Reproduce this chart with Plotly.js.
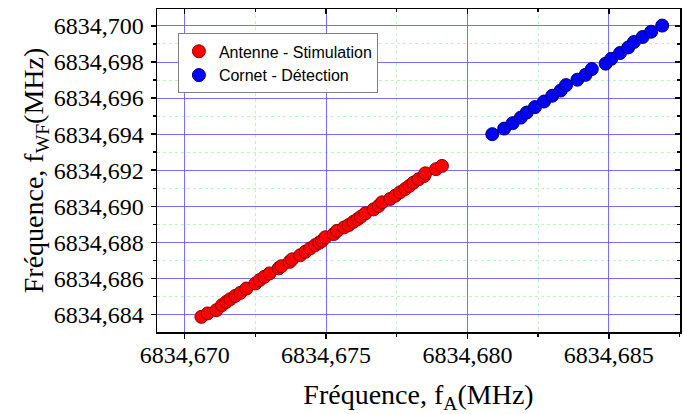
<!DOCTYPE html>
<html>
<head>
<meta charset="utf-8">
<script src="https://cdn.plot.ly/plotly-3.0.1.min.js"></script>
<style>html,body{margin:0;padding:0;background:#fff;}#chart{width:684px;height:414px;}</style>
</head>
<body>
<div id="chart"></div>
<script>
// Antenne - Stimulation (red)
const antenneX = [6834.67059, 6834.67081, 6834.67112, 6834.67132, 6834.67147, 6834.67161, 6834.67179, 6834.67197,
  6834.67218, 6834.67250, 6834.67265, 6834.67282, 6834.67300, 6834.67332, 6834.67342, 6834.67371, 6834.67380,
  6834.67409, 6834.67427, 6834.67444, 6834.67462, 6834.67476, 6834.67486, 6834.67497, 6834.67527, 6834.67539,
  6834.67564, 6834.67580, 6834.67597, 6834.67611, 6834.67623, 6834.67639, 6834.67668, 6834.67686, 6834.67698,
  6834.67727, 6834.67745, 6834.67762, 6834.67780, 6834.67795, 6834.67809, 6834.67827, 6834.67847, 6834.67851,
  6834.67889, 6834.67910];
const antenneY = [6834.68387, 6834.68406, 6834.68424, 6834.68452, 6834.68470, 6834.68485, 6834.68503, 6834.68520,
  6834.68544, 6834.68572, 6834.68591, 6834.68609, 6834.68628, 6834.68656, 6834.68668, 6834.68692, 6834.68706,
  6834.68729, 6834.68748, 6834.68767, 6834.68785, 6834.68798, 6834.68809, 6834.68828, 6834.68846, 6834.68864,
  6834.68883, 6834.68896, 6834.68914, 6834.68928, 6834.68942, 6834.68961, 6834.68983, 6834.69002, 6834.69022,
  6834.69041, 6834.69059, 6834.69078, 6834.69096, 6834.69113, 6834.69131, 6834.69150, 6834.69168, 6834.69183,
  6834.69206, 6834.69224];
// Cornet - Détection (blue)
const cornetX = [6834.68088, 6834.68130, 6834.68160, 6834.68189, 6834.68210, 6834.68239, 6834.68271, 6834.68300,
  6834.68330, 6834.68349, 6834.68389, 6834.68418, 6834.68440, 6834.68489, 6834.68509, 6834.68540, 6834.68569,
  6834.68589, 6834.68620, 6834.68650, 6834.68689];
const cornetY = [6834.69400, 6834.69431, 6834.69461, 6834.69492, 6834.69520, 6834.69550, 6834.69581, 6834.69613,
  6834.69642, 6834.69672, 6834.69702, 6834.69729, 6834.69761, 6834.69791, 6834.69818, 6834.69850, 6834.69881,
  6834.69911, 6834.69939, 6834.69968, 6834.70002];
const seriesNames = ['Antenne - Stimulation', 'Cornet - Détection'];
const xTitle = 'Fréquence, f<sub>A</sub>(MHz)';
const yTitle = 'Fréquence, f<sub>WF</sub>(MHz)';

const serif = 'Liberation Serif, Times New Roman, serif';
const xr = [6834.66902, 6834.68752];
const yr = [6834.68303, 6834.70094];

const traces = [
  {x: antenneX, y: antenneY, name: seriesNames[0], type: 'scatter', mode: 'markers',
   marker: {size: 13, color: '#ff0000', line: {color: '#8b0000', width: 1}}},
  {x: cornetX, y: cornetY, name: seriesNames[1], type: 'scatter', mode: 'markers',
   xaxis: 'x2', yaxis: 'y2',
   marker: {size: 13, color: '#0000ff', line: {color: '#00006e', width: 1}}}
];

const gridMajor = 'rgba(90,90,255,0.85)';
const gridMinor = 'rgba(170,240,170,0.75)';

const layout = {
  width: 684, height: 414,
  margin: {l: 157, r: 4, t: 9, b: 82},
  paper_bgcolor: '#ffffff', plot_bgcolor: '#ffffff',
  separators: ', ',
  showlegend: true,
  legend: {x: 0.04, y: 0.9245, xanchor: 'left', yanchor: 'top',
    bgcolor: '#ffffff', bordercolor: '#808080', borderwidth: 1,
    font: {family: 'Liberation Sans, Arial, sans-serif', size: 16, color: '#000'},
    tracegroupgap: 0, itemsizing: 'trace'},
  xaxis: {range: xr, tick0: 6834.670, dtick: 0.005, tickformat: '.3f',
    showline: true, linecolor: '#000', linewidth: 1.5, mirror: true,
    ticks: 'outside', ticklen: 5, tickwidth: 1.5, tickcolor: '#000',
    ticklabelstandoff: -4,
    showgrid: true, gridcolor: gridMajor, gridwidth: 1, zeroline: false,
    minor: {dtick: 0.0025, tick0: 6834.670, ticks: 'outside', ticklen: 3, tickcolor: '#000', showgrid: true, gridcolor: gridMinor, griddash: 'dot', gridwidth: 1},
    tickfont: {family: serif, size: 24, color: '#000'},
    title: {text: xTitle, font: {family: serif, size: 28, color: '#000'}, standoff: 17},
    automargin: false},
  yaxis: {range: yr, tick0: 6834.684, dtick: 0.002, tickformat: '.3f',
    showline: true, linecolor: '#000', linewidth: 1.5, mirror: true,
    ticks: 'outside', ticklen: 5, tickwidth: 1.5, tickcolor: '#000',
    ticklabelstandoff: 2,
    showgrid: true, gridcolor: gridMajor, gridwidth: 1, zeroline: false,
    minor: {dtick: 0.001, tick0: 6834.684, ticks: 'outside', ticklen: 3, tickcolor: '#000', showgrid: true, gridcolor: gridMinor, griddash: 'dot', gridwidth: 1},
    tickfont: {family: serif, size: 24, color: '#000'},
    title: {text: yTitle, font: {family: serif, size: 28, color: '#000'}, standoff: 2},
    automargin: false},
  xaxis2: {matches: 'x', overlaying: 'x', side: 'top', anchor: 'y2', range: xr,
    tick0: 6834.670, dtick: 0.005, showticklabels: false, showgrid: false, zeroline: false,
    ticks: 'inside', ticklen: 5, tickwidth: 1.5, tickcolor: '#000',
    minor: {dtick: 0.0025, tick0: 6834.670, ticks: 'inside', ticklen: 3, tickcolor: '#000', showgrid: false}},
  yaxis2: {matches: 'y', overlaying: 'y', side: 'right', anchor: 'x2', range: yr,
    tick0: 6834.684, dtick: 0.002, showticklabels: false, showgrid: false, zeroline: false,
    ticks: 'inside', ticklen: 5, tickwidth: 1.5, tickcolor: '#000',
    minor: {dtick: 0.001, tick0: 6834.684, ticks: 'inside', ticklen: 3, tickcolor: '#000', showgrid: false}}
};

Plotly.newPlot('chart', traces, layout, {displayModeBar: false, staticPlot: true});
</script>
</body>
</html>
